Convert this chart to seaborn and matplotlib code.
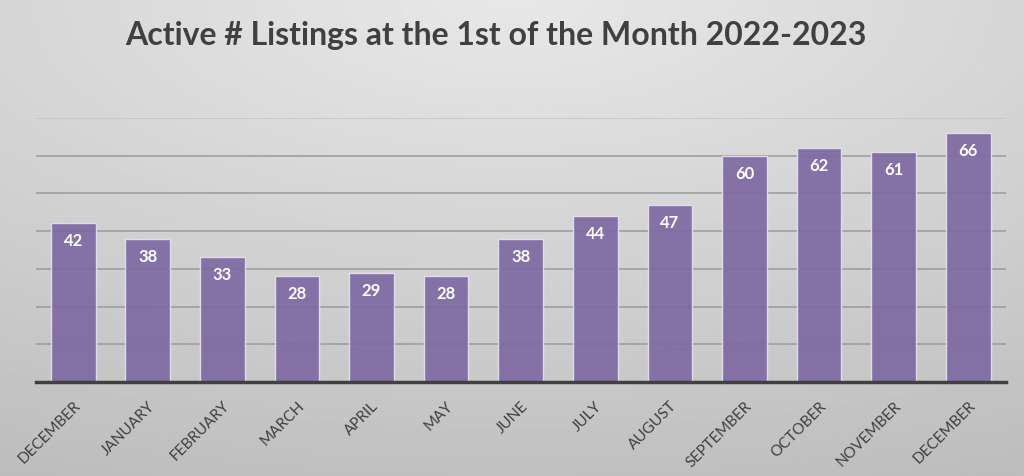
import numpy as np
import pandas as pd
import matplotlib
matplotlib.use('Agg')
import matplotlib.pyplot as plt
import seaborn as sns

months = ['DECEMBER', 'JANUARY', 'FEBRUARY', 'MARCH', 'APRIL', 'MAY', 'JUNE',
          'JULY', 'AUGUST', 'SEPTEMBER', 'OCTOBER', 'NOVEMBER', 'DECEMBER']
listings = [42, 38, 33, 28, 29, 28, 38, 44, 47, 60, 62, 61, 66]

df = pd.DataFrame({'pos': range(len(months)), 'month': months, 'listings': listings})

sns.set_style('white')
plt.rcParams['font.family'] = ['Lato', 'DejaVu Sans']

fig = plt.figure(figsize=(10.24, 4.77), dpi=100)

# grey radial-ish gradient background
bg = fig.add_axes([0, 0, 1, 1], zorder=-1)
yy, xx = np.mgrid[0:1:200j, 0:1:400j]
r = np.sqrt(((xx - 0.5) * 1.0) ** 2 + (yy * 1.1) ** 2)
bg.imshow(0.91 - 0.17 * np.clip(r, 0, 1.2) / 1.2, cmap='gray', vmin=0, vmax=1,
          aspect='auto', extent=[0, 1, 1, 0])
bg.axis('off')

ax = fig.add_axes([0.035, 0.197, 0.947, 0.554])
ax.patch.set_alpha(0)

sns.barplot(data=df, x='pos', y='listings', ax=ax, color='#7e69a2', width=0.6,
            alpha=0.92, edgecolor='#e8e0f0', linewidth=1, saturation=1, zorder=3)

for i, v in enumerate(listings):
    ax.annotate(str(v), (i, v), xytext=(0, -17), textcoords='offset pixels',
                ha='center', va='center', color='white', fontsize=12,
                fontweight='bold', zorder=4)

ax.set_ylim(0, 70)
ax.set_xlim(-0.5, len(months) - 0.5)
ax.set_yticks(range(0, 71, 10))
ax.yaxis.grid(True, color='#9a9a9a', linewidth=1.1, zorder=0)
ax.tick_params(axis='y', left=False, labelleft=False)
for g in ax.get_ygridlines()[-1:]:
    g.set_color('#c4c4c4')
for s in ['top', 'right', 'left']:
    ax.spines[s].set_visible(False)
ax.spines['bottom'].set_color('#404040')
ax.spines['bottom'].set_linewidth(2.5)
ax.spines['bottom'].set_zorder(5)

ax.set_xticks(range(len(months)))
ax.set_xticklabels(months, rotation=45, ha='right', rotation_mode='anchor',
                   color='#404040', fontsize=11)
ax.tick_params(axis='x', bottom=False, pad=8)
ax.set_xlabel('')
ax.set_ylabel('')

fig.text(0.484, 0.925, 'Active # Listings at the 1st of the Month 2022-2023',
         ha='center', va='center', fontsize=23, fontweight='bold', color='#404040')

fig.savefig('out.png', dpi=100)
